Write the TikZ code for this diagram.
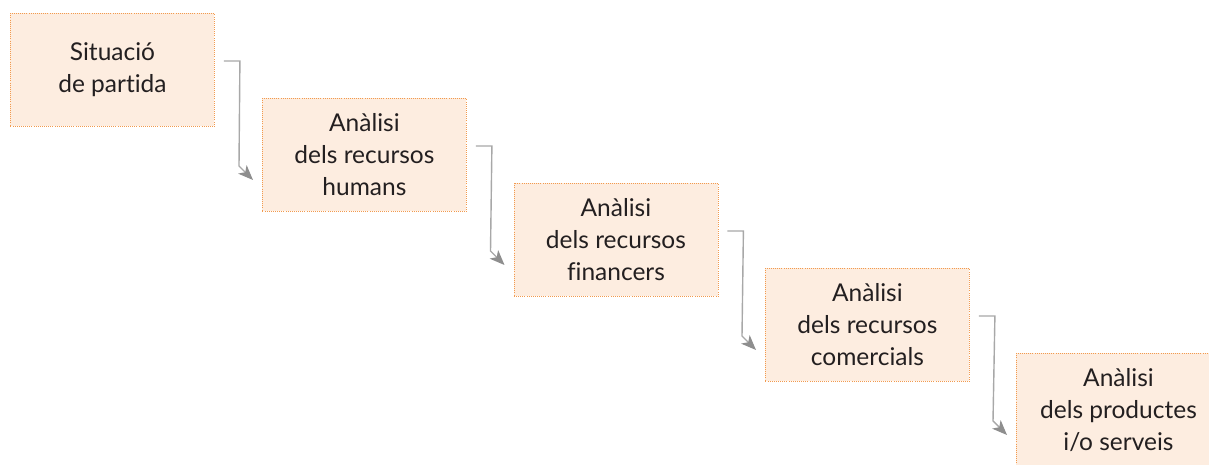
\documentclass[tikz,border=0pt]{standalone}
\usepackage{fontspec}
\setmainfont[Ligatures=NoCommon]{Lato}
\usetikzlibrary{arrows.meta,calc}
\definecolor{boxfill}{HTML}{FDEDE0}
\definecolor{boxedge}{HTML}{F29A4E}
\definecolor{linegray}{HTML}{A8A8A8}
\definecolor{tipgray}{HTML}{8E8E8E}
\definecolor{ink}{HTML}{231F20}
\begin{document}
\begin{tikzpicture}[x=1pt,y=1pt,
  stage/.style={anchor=north west, draw=boxedge, fill=boxfill,
    line width=0.9pt, dash pattern=on 1pt off 1.1pt,
    minimum width=204pt, minimum height=113pt, inner sep=0pt,
    align=center, text=ink, font=\fontsize{24.5}{32}\selectfont},
  conn/.style={draw=linegray, line width=1.4pt,
    -{Stealth[length=15pt,width=12pt,inset=4pt,fill=tipgray,color=tipgray]}}]
\useasboundingbox (0,0) rectangle (1209,-465);

% the five stages, stepping down to the right
\node[stage] (b1) at (10,-13) {Situació\\de partida};
\node[stage] (b2) at (262,-98) {Anàlisi\\dels recursos\\humans};
\node[stage] (b3) at (513.5,-183) {Anàlisi\\dels recursos\\financers};
\node[stage] (b4) at (765,-268) {Anàlisi\\dels recursos\\comercials};
\node[stage] (b5) at (1016,-353) {Anàlisi\\dels productes\\i/o serveis};

% elbow connectors between consecutive stages
\foreach \a/\b in {b1/b2, b2/b3, b3/b4, b4/b5}{
  \draw[conn] ($(\a.north east)+(9,-48)$) -- ++(16,0)
    -- ($(\b.north west)+(-23,-68)$) -- ($(\b.north west)+(-9,-82)$);
}
\end{tikzpicture}
\end{document}
